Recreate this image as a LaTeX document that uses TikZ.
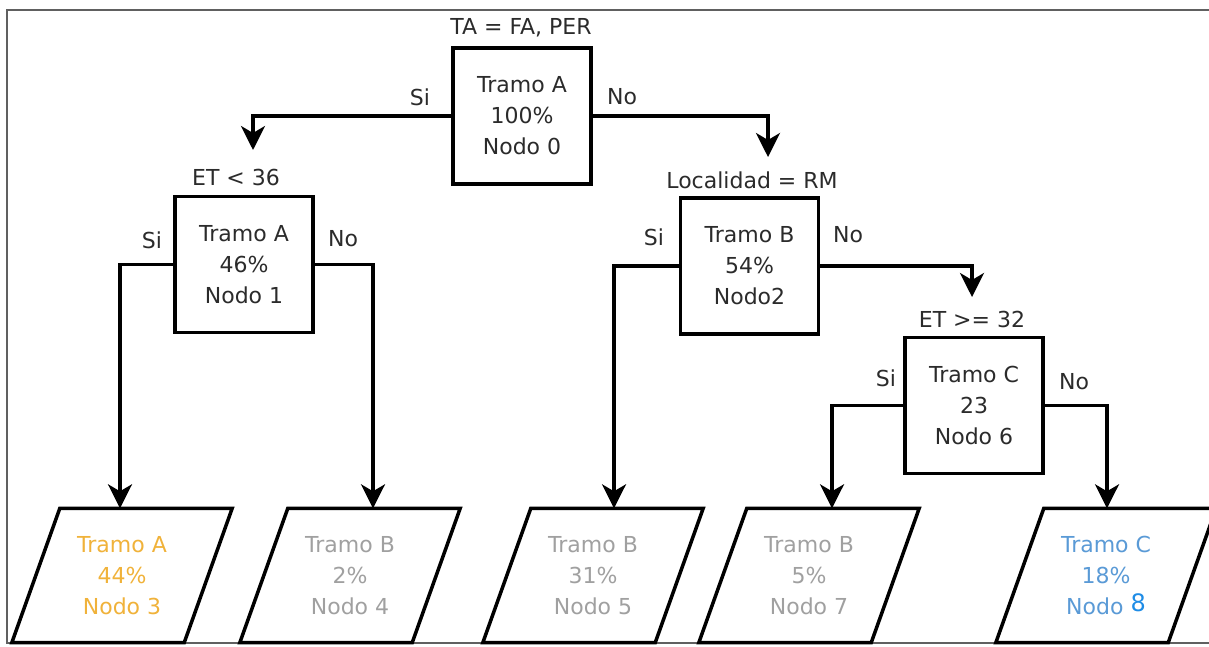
\documentclass[tikz,border=0pt]{standalone}
\usepackage{fontspec}
\setmainfont{DejaVu Sans}
\usetikzlibrary{arrows.meta}
\definecolor{ink}{HTML}{2B2B2B}
\definecolor{framegray}{HTML}{606060}
\definecolor{leafgold}{HTML}{F0B23A}
\definecolor{leafgray}{HTML}{A0A0A0}
\definecolor{leafblue}{HTML}{5A9AD6}
\definecolor{digitblue}{HTML}{1E8CE6}
\begin{document}
\begin{tikzpicture}[x=1pt,y=-1pt,
  txt/.style={font=\fontsize{22}{31}\selectfont, text=ink, inner sep=0pt},
  splitbox/.style={txt, draw=black, line width=3.8pt, minimum width=138pt,
    minimum height=136pt, align=center},
  leaf/.style={txt, minimum width=172pt, minimum height=134pt, align=center},
  leafline/.style={draw=black, line width=3.5pt, line join=miter},
  wire/.style={draw=black, line width=3.4pt},
  arr/.style={wire, -{Stealth[length=24pt, width=24pt, inset=7pt]}},
  framedraw/.style={draw=framegray, line width=2pt}]
\useasboundingbox (0,0) rectangle (1209,646);

% outer frame (open on the right)
\draw[framedraw] (1215,10) -- (7,10) -- (7,643) -- (1215,643);

% split nodes
\node[splitbox] (n0) at (522,116) {Tramo A\\100\%\\Nodo 0};
\node[splitbox] (n1) at (244,264.5) {Tramo A\\46\%\\Nodo 1};
\node[splitbox] (n2) at (749.5,266) {Tramo B\\54\%\\Nodo2};
\node[splitbox] (n6) at (974,405.5) {Tramo C\\23\\Nodo 6};

% split conditions
\node[txt] (q0) at (521,28) {TA = FA, PER};
\node[txt] (q1) at (236,177) {ET < 36};
\node[txt] (q2) at (752,180) {Localidad = RM};
\node[txt] (q6) at (972,319) {ET >= 32};

% leaves
\node[leaf, text=leafgold] (l3) at (122,575.5) {Tramo A\\44\%\\Nodo 3};
\node[leaf, text=leafgray] (l4) at (350,575.5) {Tramo B\\2\%\\Nodo 4};
\node[leaf, text=leafgray] (l5) at (593,575.5) {Tramo B\\31\%\\Nodo 5};
\node[leaf, text=leafgray] (l7) at (809,575.5) {Tramo B\\5\%\\Nodo 7};
\node[leaf, text=leafblue] (l8) at (1106,575.5)
  {Tramo C\\18\%\\Nodo \raisebox{3pt}{\fontsize{24}{31}\selectfont\color{digitblue}8}};

\foreach \l in {l3,l4,l5,l7,l8}{
  \draw[leafline] ([xshift=24pt]\l.north west) -- ([xshift=24pt]\l.north east)
    -- ([xshift=-24pt]\l.south east) -- ([xshift=-24pt]\l.south west) -- cycle;
}

% elbows of the connectors
\coordinate (e0s) at (253,116);
\coordinate (t0s) at (253,150);
\coordinate (e0n) at (768,116);
\coordinate (t0n) at (768,157);
\coordinate (e1s) at (120,264.5);
\coordinate (e1n) at (373,264.5);
\coordinate (e2s) at (614,266);
\coordinate (e2n) at (972,266);
\coordinate (t2n) at (972,297);
\coordinate (e6s) at (832,405.5);
\coordinate (e6n) at (1107,405.5);

% connectors
\draw[arr] (n0.west) -- (e0s) -- (t0s);
\draw[arr] (n0.east) -- (e0n) -- (t0n);
\draw[arr] (n1.west) -- (e1s) -- (e1s |- l3.north);
\draw[arr] (n1.east) -- (e1n) -- (e1n |- l4.north);
\draw[arr] (n2.west) -- (e2s) -- (e2s |- l5.north);
\draw[arr] (n2.east) -- (e2n) -- (t2n);
\draw[arr] (n6.west) -- (e6s) -- (e6s |- l7.north);
\draw[arr] (n6.east) -- (e6n) -- (e6n |- l8.north);

% branch labels
\node[txt] (s0) at (420,97) {Si};
\node[txt] (o0) at (622,97) {No};
\node[txt] (s1) at (152,240) {Si};
\node[txt] (o1) at (343,239) {No};
\node[txt] (s2) at (654,237) {Si};
\node[txt] (o2) at (848,235) {No};
\node[txt] (s6) at (886,378) {Si};
\node[txt] (o6) at (1074,382) {No};
\end{tikzpicture}
\end{document}
